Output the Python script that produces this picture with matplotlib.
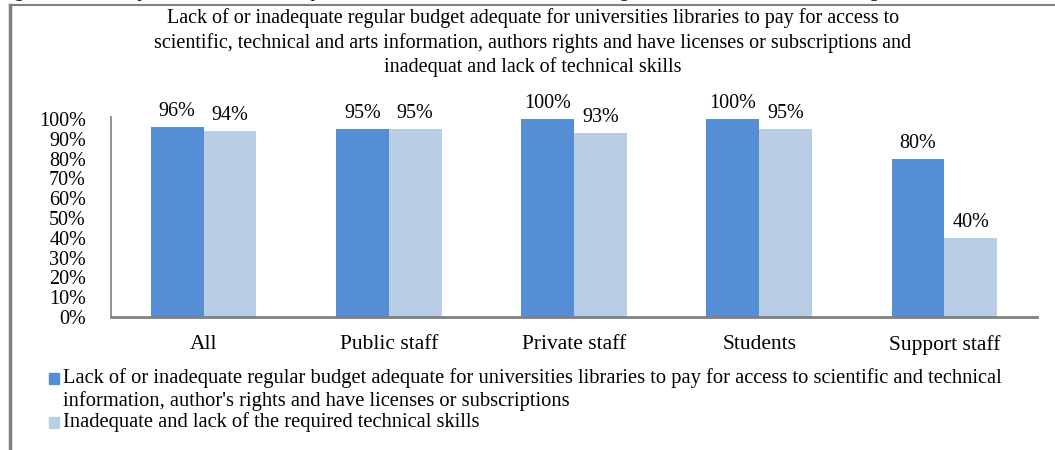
import numpy as np
import matplotlib.pyplot as plt
from matplotlib.patches import Rectangle
from matplotlib.lines import Line2D

plt.rc('font', family=['Liberation Serif', 'DejaVu Serif'], size=14)

categories = ['All', 'Public staff', 'Private staff', 'Students', 'Support staff']
budget = [96, 95, 100, 100, 80]
skills = [94, 95, 93, 95, 40]
yticks = np.arange(0, 101, 10)

title = ('Lack of or inadequate regular budget adequate for universities libraries to pay for access to\n'
         'scientific, technical and arts information, authors rights and have licenses or subscriptions and\n'
         'inadequat and lack of technical skills')
caption = ('Figures 14: The impacts of difficulties and problems for the use of internet in hindering '
           'research and transfer of knowledge')
legend_labels = [
    "Lack of or inadequate regular budget adequate for universities libraries to pay for access to scientific and technical\n"
    "information, author's rights and have licenses or subscriptions",
    'Inadequate and lack of the required technical skills',
]
colors = ['#558ed5', '#b9cde5']

W, H = 1055, 450
fig = plt.figure(figsize=(W / 100, H / 100), dpi=100)

# frame of the chart area (the page caption above is cut off, as in the source)
fig.add_artist(Line2D([10 / W, 10 / W], [0, 1 - 5 / H], color='#808080', lw=2.5))
fig.add_artist(Line2D([10 / W, 1], [1 - 5 / H, 1 - 5 / H], color='#808080', lw=1.5))
fig.text(0.0, 1 - 1 / H, caption, fontsize=13, va='bottom', ha='left')

ax = fig.add_axes([111 / W, (H - 317) / H, 926 / W, 200 / H])
x = np.arange(len(categories))
w = 0.285
b1 = ax.bar(x - w / 2, budget, w, color=colors[0])
b2 = ax.bar(x + w / 2, skills, w, color=colors[1])
for bars, vals in [(b1, budget), (b2, skills)]:
    for bar, v in zip(bars, vals):
        ax.text(bar.get_x() + bar.get_width() / 2, v + 3, f'{v}%',
                ha='center', va='bottom', fontsize=14.5)

ax.set_xlim(-0.5, len(categories) - 0.5)
ax.set_ylim(0, 101)
ax.set_yticks(yticks)
ax.set_yticklabels([f'{t}%' for t in yticks], fontsize=14.5)
ax.set_xticks(x)
ax.set_xticklabels(categories, fontsize=15.5)
ax.tick_params(axis='both', length=0)
ax.tick_params(axis='x', pad=13)
ax.tick_params(axis='y', pad=18)
for s in ['top', 'right']:
    ax.spines[s].set_visible(False)
for s in ['left', 'bottom']:
    ax.spines[s].set_color('#808080')
ax.spines['bottom'].set_linewidth(2)
ax.spines['left'].set_linewidth(1.2)

fig.text(533 / W, 1 - 8 / H, title, ha='center', va='top', fontsize=14.5, linespacing=1.32)

# legend drawn by hand so the marker sits at the first line
ly = [378, 422]
for lab, c, y in zip(legend_labels, colors, ly):
    fig.add_artist(Rectangle((49 / W, 1 - (y + 6) / H), 10 / W, 11 / H, color=c,
                             transform=fig.transFigure))
    fig.text(63 / W, 1 - (y - 10) / H, lab, ha='left', va='top', fontsize=14.8, linespacing=1.2)

fig.savefig('out.png', dpi=100)
